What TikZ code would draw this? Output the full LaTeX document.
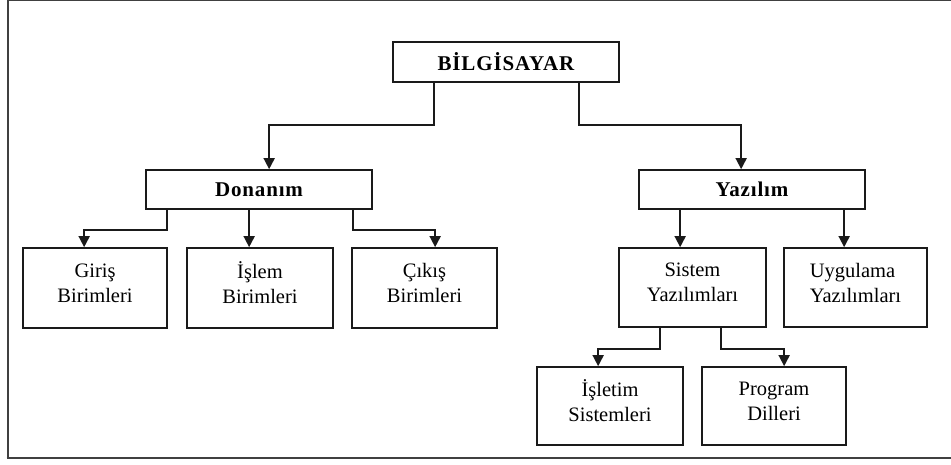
\documentclass[tikz,border=0pt]{standalone}
\usepackage{fontspec}
\setmainfont{Liberation Serif}
\usetikzlibrary{arrows.meta}
\definecolor{frameg}{HTML}{404040}
\definecolor{ink}{HTML}{1A1A1A}
\tikzset{
  box/.style={draw=ink, line width=1.7pt, fill=white, inner sep=0pt, align=center,
    font=\fontsize{20.5}{25}\selectfont, text depth=10pt},
  title/.style={draw=ink, line width=1.7pt, fill=white, inner sep=0pt, align=center,
    font=\fontsize{21}{24}\selectfont\bfseries\addfontfeatures{LetterSpace=4}},
  arr/.style={draw=ink, line width=1.7pt, -{Triangle[length=11pt,width=11pt]}},
  frameline/.style={draw=frameg}
}
\begin{document}
\begin{tikzpicture}[x=1pt,y=-1pt]
\useasboundingbox (0,0) rectangle (951,464);
% frame
\draw[frameline, line width=2pt] (7.5,0) -- (7.5,459);
\draw[frameline, line width=1pt] (7,0.5) -- (951,0.5);
\draw[frameline, line width=2pt] (6.5,458) -- (951,458);
% nodes
\node[title, minimum width=226pt, minimum height=40pt] (root) at (506,62) {BİLGİSAYAR};
\node[title, minimum width=226pt, minimum height=39pt] (don) at (259,189.5) {Donanım};
\node[title, minimum width=226pt, minimum height=39pt] (yaz) at (752,189.5) {Yazılım};
\node[box, minimum width=144pt, minimum height=80pt] (giris) at (95,288) {Giriş\\Birimleri};
\node[box, minimum width=146pt, minimum height=80pt] (islem) at (260,288) {İşlem\\Birimleri};
\node[box, minimum width=145pt, minimum height=80pt] (cikis) at (424.5,288) {Çıkış\\Birimleri};
\node[box, minimum width=147pt, minimum height=79pt] (sis) at (692.5,287.5) {Sistem\\Yazılımları};
\node[box, minimum width=143pt, minimum height=79pt, align=left] (uyg) at (855.5,287.5) {Uygulama\\Yazılımları};
\node[box, minimum width=146pt, minimum height=78pt] (isl) at (610,406) {İşletim\\Sistemleri};
\node[box, minimum width=144pt, minimum height=78pt] (prg) at (774,406) {Program\\Dilleri};
% entry points
\coordinate (islemIn) at ([xshift=63pt]islem.north west);
\coordinate (sisIn) at ([xshift=62pt]sis.north west);
\coordinate (uygIn) at ([xshift=61pt]uyg.north west);
% connectors
\draw[arr] ([xshift=42pt]root.south west) -- ++(0,-42pt) -| ([xshift=124pt]don.north west);
\draw[arr] ([xshift=-41pt]root.south east) -- ++(0,-42pt) -| ([xshift=103pt]yaz.north west);
\draw[arr] ([xshift=22pt]don.south west) -- ++(0,-20pt) -| ([xshift=62pt]giris.north west);
\draw[arr] (islemIn |- don.south) -- (islemIn);
\draw[arr] ([xshift=-20pt]don.south east) -- ++(0,-20pt) -| ([xshift=84pt]cikis.north west);
\draw[arr] (sisIn |- yaz.south) -- (sisIn);
\draw[arr] (uygIn |- yaz.south) -- (uygIn);
\draw[arr] ([xshift=42pt]sis.south west) -- ++(0,-21pt) -| ([xshift=62pt]isl.north west);
\draw[arr] ([xshift=103pt]sis.south west) -- ++(0,-21pt) -| ([xshift=83pt]prg.north west);
\end{tikzpicture}
\end{document}
